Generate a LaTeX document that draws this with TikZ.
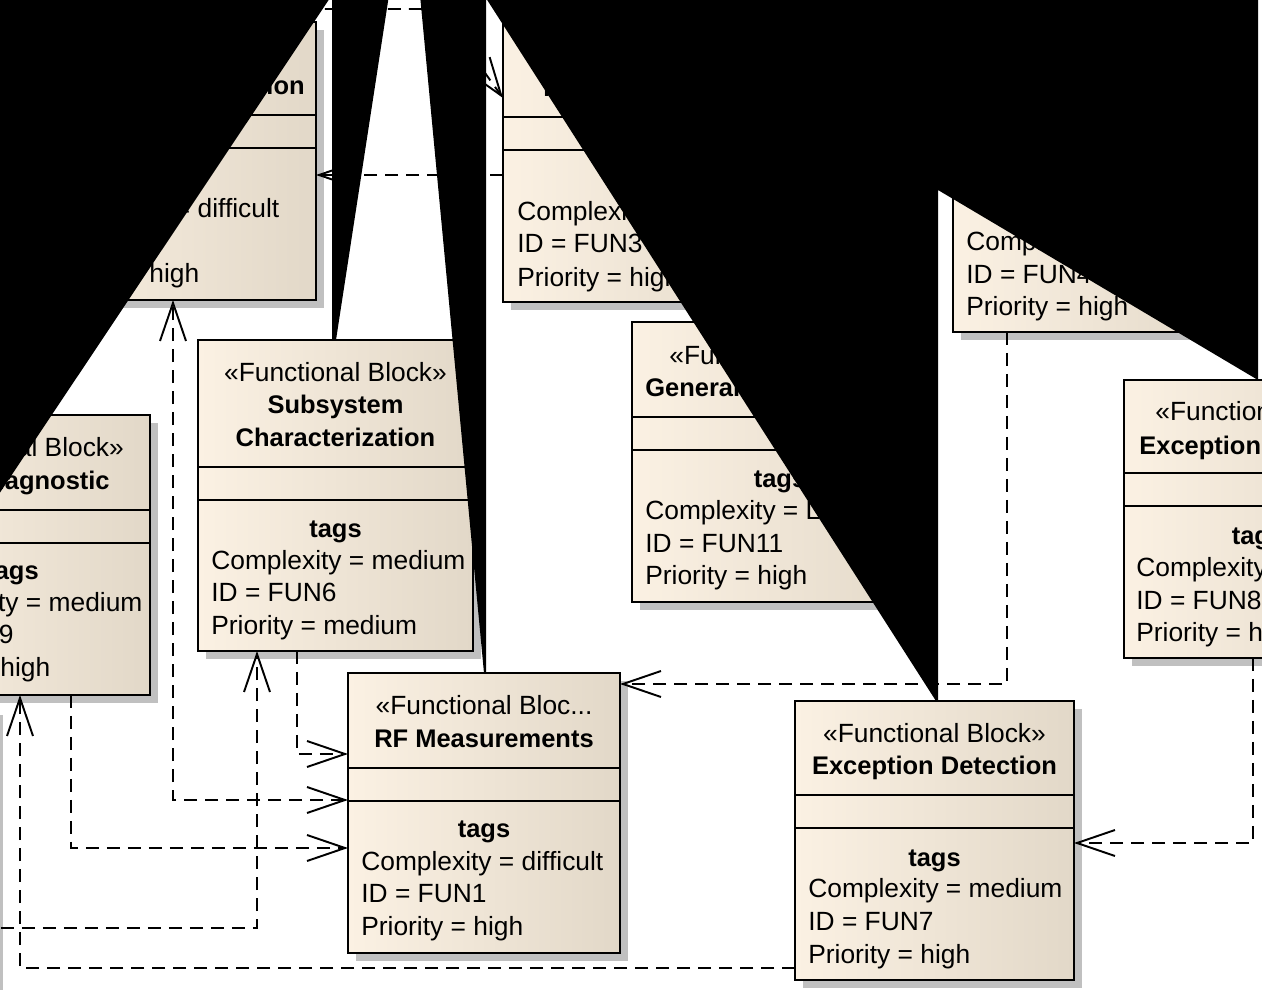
\documentclass[tikz,border=0pt]{standalone}
\usepackage{fontspec}
\setmainfont{Liberation Sans}
\usetikzlibrary{arrows.meta, calc}
\definecolor{colBlkL}{RGB}{251,241,227}
\definecolor{colBlkR}{RGB}{226,216,200}
\definecolor{colShadow}{RGB}{192,192,192}
\tikzset{
    block/.style={rectangle, draw=black, line width=1.2pt, left color=colBlkL, right color=colBlkR,
        anchor=north west, inner sep=0pt, outer sep=0pt},
    sepline/.style={draw=black, line width=1.2pt},
    txt/.style={anchor=base west, inner sep=0pt, font=\fontsize{15pt}{18pt}\selectfont},
    ctxt/.style={txt, anchor=base},
    ttl/.style={txt, font=\fontsize{14.5pt}{18pt}\selectfont\bfseries},
    cttl/.style={ttl, anchor=base},
    dep/.style={line width=1.1pt, dash pattern=on 0.26cm off 0.16cm,
        -{Straight Barb[length=0.76cm, width=0.52cm]}},
    depboth/.style={dep, {Straight Barb[length=0.76cm, width=0.52cm]}-{Straight Barb[length=0.76cm, width=0.52cm]}},
    blob/.style={fill=black}
}
% block: name, x, y, width, height, header height (pixels)
\newcommand{\fblock}[6]{%
    \fill[colShadow] (#2+8,#3+8) rectangle (#2+#4+8,#3+#5+8);
    \node[block, minimum width=#4*0.02cm, minimum height=#5*0.02cm] (#1) at (#2,#3) {};
    \draw[sepline] (#2,#3+#6) -- ++(#4,0) (#2,#3+#6+33) -- ++(#4,0);
}

\begin{document}
\begin{tikzpicture}[x=0.02cm, y=-0.02cm]
    \useasboundingbox (0,0) rectangle (1262,990);

    \fblock{tl}{24}{22}{292}{278}{93}
    \fblock{fun3}{503}{22}{292}{280}{95}
    \fblock{fun4}{953}{52}{280}{280}{95}
    \fblock{sub}{198}{340}{275}{311}{127}
    \fblock{diag}{-125}{415}{275}{280}{95}
    \fblock{gen}{632}{322}{296}{280}{95}
    \fblock{rf}{348}{673}{272}{280}{95}
    \fblock{excr}{1124}{380}{284}{278}{93}
    \fblock{excd}{795}{701}{279}{279}{94}
    \fill[colShadow] (0,715) rectangle (3,990);

    % dependencies
    \coordinate (offleft) at (-20,928);
    \draw[dep] (fun3.west |- 0,175) -- (tl.east |- 0,175);
    \draw[dep] (tl.north) |- (439,9) -- (fun3.west |- 0,98);
    \draw[depboth] (rf.west |- 0,800) -| (173,0 |- tl.south);
    \draw[dep] (297,0 |- sub.south) |- (rf.west |- 0,754);
    \draw[dep] (71,0 |- diag.south) |- (rf.west |- 0,848);
    \draw[dep] (offleft) -| (257,0 |- sub.south);
    \draw[dep] (excd.west |- 0,968) -| (20,0 |- diag.south);
    \draw[dep] (1007,0 |- fun4.south) |- (rf.east |- 0,684);
    \draw[dep] (1253,0 |- excr.south) |- (excd.east |- 0,843);

    % top left block
    \node[ttl, anchor=base east] (tlname) at (305,95) {tion};
    \node[txt] (tlc) at (37,217) {Complexity = difficult};
    \node[txt] (tlp) at (37,282) {Priority = high};

    % top middle block
    \node[ttl] (f3name) at (543,97) {I};
    \node[txt] (f3c) at (517,220) {Complexity};
    \node[txt] (f3i) at (517,253) {ID = FUN3};
    \node[txt] (f3p) at (517,286) {Priority = high};

    % top right block
    \node[txt] (f4c) at (966,251) {Complexity};
    \node[txt] (f4i) at (966,283) {ID = FUN4};
    \node[txt] (f4p) at (966,315) {Priority = high};

    % Subsystem Characterization
    \node[ctxt] (subst) at (335.5,381) {«Functional Block»};
    \node[cttl] (subn1) at (335.5,413) {Subsystem};
    \node[cttl] (subn2) at (335.5,446) {Characterization};
    \node[cttl] (subtg) at (335.5,537) {tags};
    \node[txt] (subc) at (211,569) {Complexity = medium};
    \node[txt] (subi) at (211,601) {ID = FUN6};
    \node[txt] (subp) at (211,634) {Priority = medium};

    % Diagnostic
    \node[ctxt] (diagst) at (12.5,456) {«Functional Block»};
    \node[ttl, anchor=base east] (diagn) at (110,489) {Diagnostic};
    \node[cttl] (diagtg) at (12.5,579) {tags};
    \node[txt] (diagc) at (-112,611) {Complexity = medium};
    \node[txt] (diagi) at (-112,643) {ID = FUN9};
    \node[txt] (diagp) at (-112,676) {Priority = high};

    % General
    \node[txt] (genst) at (669,364) {«Functional Block»};
    \node[ttl] (genn) at (645,396) {General};
    \node[cttl] (gentg) at (780,487) {tags};
    \node[txt] (genc) at (645,519) {Complexity = Low};
    \node[txt] (geni) at (645,552) {ID = FUN11};
    \node[txt] (genp) at (645,584) {Priority = high};

    % RF Measurements
    \node[ctxt] (rfst) at (484,714) {«Functional Bloc...};
    \node[cttl] (rfn) at (484,747) {RF Measurements};
    \node[cttl] (rftg) at (484,837) {tags};
    \node[txt] (rfc) at (361,870) {Complexity = difficult};
    \node[txt] (rfi) at (361,902) {ID = FUN1};
    \node[txt] (rfp) at (361,935) {Priority = high};

    % Exception (right)
    \node[txt] (excrst) at (1155,420) {«Functional Block»};
    \node[ttl] (excrn) at (1139,454) {Exception};
    \node[cttl] (excrtg) at (1258,544) {tags};
    \node[txt] (excrc) at (1136,576) {Complexity};
    \node[txt] (excri) at (1136,609) {ID = FUN8};
    \node[txt] (excrp) at (1136,641) {Priority = high};

    % Exception Detection
    \node[ctxt] (excdst) at (934.5,742) {«Functional Block»};
    \node[cttl] (excdn) at (934.5,774) {Exception Detection};
    \node[cttl] (excdtg) at (934.5,866) {tags};
    \node[txt] (excdc) at (808,897) {Complexity = medium};
    \node[txt] (excdi) at (808,930) {ID = FUN7};
    \node[txt] (excdp) at (808,963) {Priority = high};

    % black wedges over the diagram
    \fill[blob] (-5,-5) -- (332,-5) -- (-5,500) -- cycle;
    \fill[blob] (332,-5) -- (389,-5) -- (336,340) -- (332,340) -- cycle;
    \fill[blob] (420,-5) -- (486,-5) -- (486,673) -- (484,673) -- cycle;
    \fill[blob] (484,-5) -- (936,701) -- (938,701) -- (938,190) -- (1258,380) -- (1258,-5) -- cycle;
\end{tikzpicture}
\end{document}
